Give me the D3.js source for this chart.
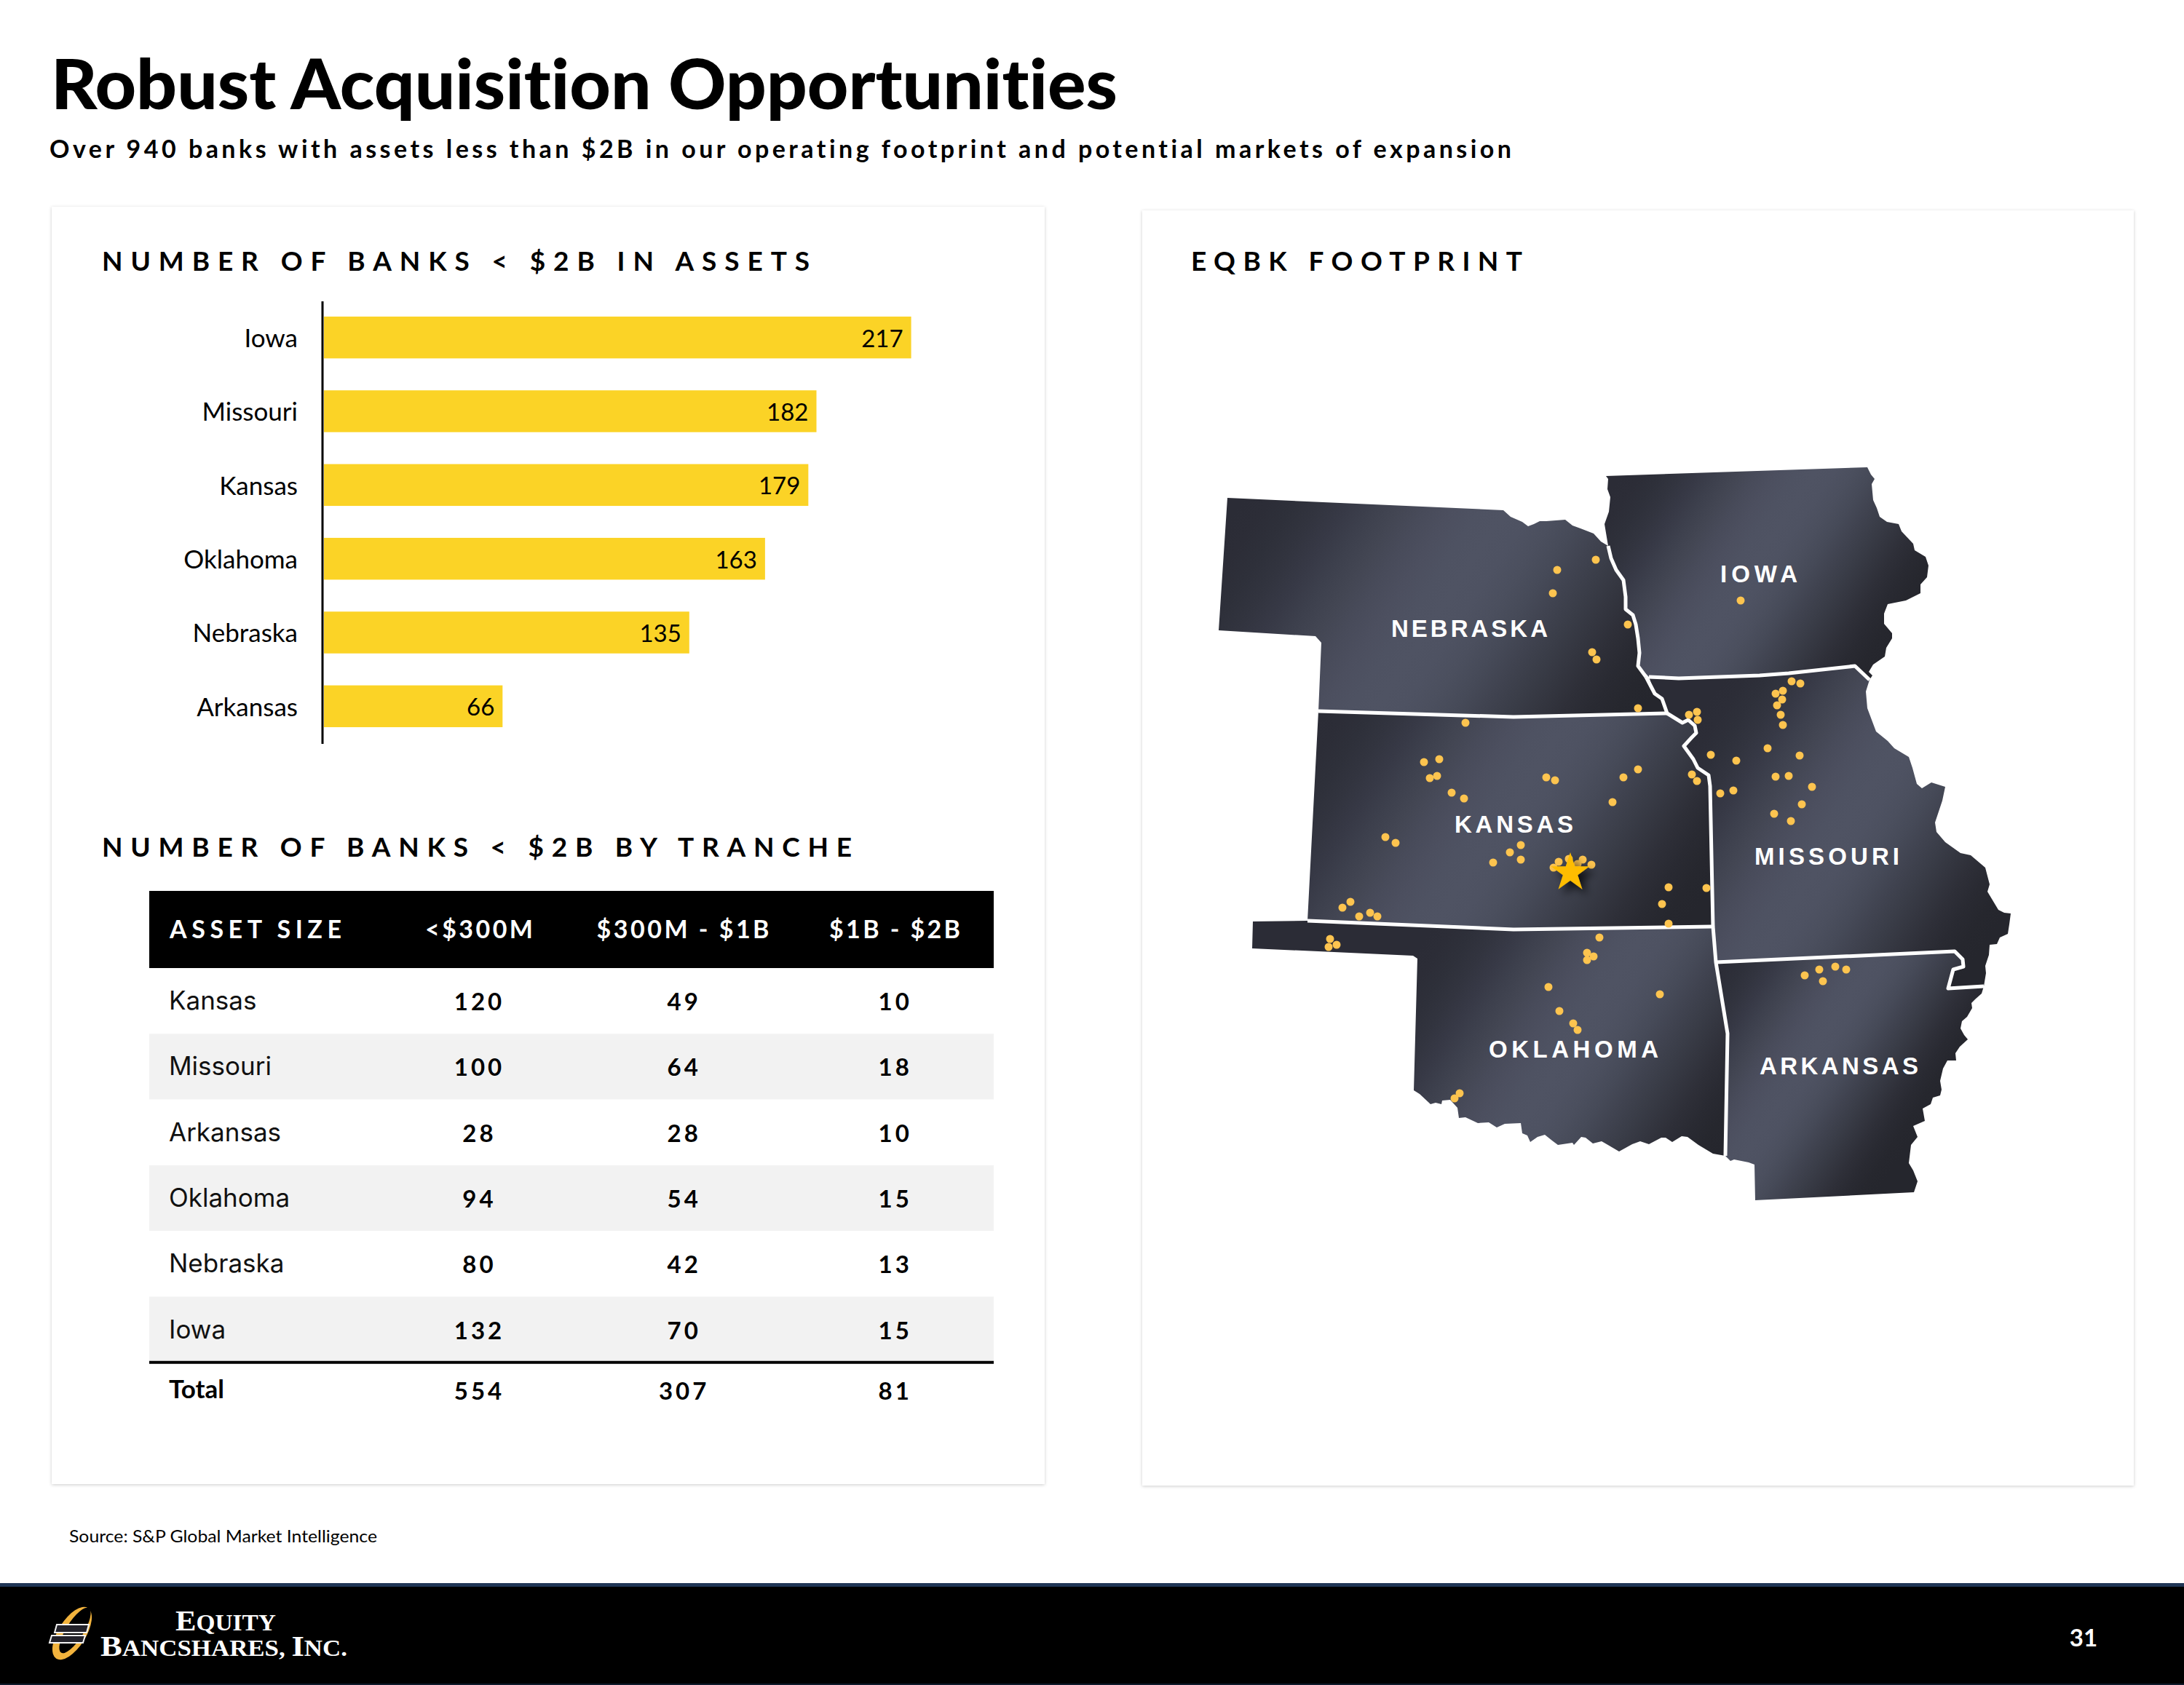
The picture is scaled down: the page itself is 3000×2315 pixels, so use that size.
<!DOCTYPE html>
<html>
<head>
<meta charset="utf-8">
<title>Robust Acquisition Opportunities</title>
<script src="https://cdnjs.cloudflare.com/ajax/libs/d3/7.8.5/d3.min.js"></script>
<style>
  html, body { margin: 0; padding: 0; background: #fff; }
  svg { display: block; }
  text { font-family: Lato, "Open Sans", sans-serif; font-variant-ligatures: none; }
</style>
</head>
<body>
<svg id="page" width="3000" height="2315" viewBox="0 0 3000 2315"></svg>
<script>
// Bank counts by state
const barStates = ["Iowa", "Missouri", "Kansas", "Oklahoma", "Nebraska", "Arkansas"];
const barValues = [217, 182, 179, 163, 135, 66];

// Tranche table
const trancheHeaders = ["ASSET SIZE", "<$300M", "$300M - $1B", "$1B - $2B"];
const trancheStates = ["Kansas", "Missouri", "Arkansas", "Oklahoma", "Nebraska", "Iowa"];
const under300M = [120, 100, 28, 94, 80, 132];
const from300Mto1B = [49, 64, 28, 54, 42, 70];
const from1Bto2B = [10, 18, 10, 15, 13, 15];

// State outlines, in map units
const nebraskaOutline = [[26,54],[405,71],[415,80],[431,87],[439,93],[447,90],[455,86],[464,86],[490,84],[500,92],[511,96],[529,103],[539,114],[549,120],[553,137],[560,153],[570,167],[573,190],[573,207],[583,215],[587,228],[590,247],[592,267],[590,285],[601,300],[613,323],[623,330],[630,350],[419,355],[151,347],[155,253],[147,244],[14,236]];
const iowaOutline = [[546,24],[905,12],[910,22],[915,28],[911,35],[913,57],[918,68],[922,80],[932,87],[948,90],[952,100],[968,117],[970,126],[985,135],[989,147],[987,163],[978,173],[978,185],[958,195],[933,200],[928,213],[928,227],[939,240],[939,247],[931,260],[929,272],[913,283],[907,293],[912,298],[908,304],[888,285],[797,295],[757,298],[646,302],[605,300],[590,285],[592,267],[590,247],[587,228],[583,215],[573,207],[573,190],[570,167],[560,153],[553,137],[549,120],[544,90],[550,73],[552,53],[548,42],[549,28]];
const missouriOutline = [[605,300],[646,302],[757,298],[797,295],[888,285],[908,304],[903,320],[905,343],[917,375],[933,388],[942,398],[962,410],[967,425],[973,447],[980,453],[993,445],[1012,451],[1008,470],[998,500],[1000,513],[1012,527],[1033,542],[1047,545],[1067,562],[1073,585],[1070,595],[1085,620],[1093,624],[1102,625],[1100,640],[1098,653],[1087,658],[1083,667],[1073,668],[1072,682],[1067,697],[1068,707],[1065,725],[1016,728],[1023,702],[1037,698],[1036,688],[1025,680],[1025,677],[697,692],[693,643],[689,450],[687,435],[672,425],[666,413],[653,395],[664,383],[670,377],[668,367],[659,359],[651,363],[630,350],[623,330],[613,323]];
const kansasOutline = [[151,347],[419,355],[630,350],[651,363],[659,359],[668,367],[670,377],[664,383],[653,395],[666,413],[672,425],[687,435],[689,450],[693,643],[419,647],[136,635]];
const oklahomaOutline = [[61,636],[136,635],[419,647],[693,643],[697,692],[713,790],[710,958],[693,955],[673,943],[658,932],[650,931],[637,939],[628,933],[622,933],[605,942],[593,938],[582,942],[564,952],[547,942],[540,938],[528,941],[518,933],[512,932],[502,943],[500,940],[480,943],[472,937],[462,929],[452,932],[442,939],[438,930],[431,927],[429,913],[407,914],[396,919],[385,912],[370,913],[353,905],[344,906],[342,892],[332,881],[321,882],[320,887],[312,885],[305,887],[290,873],[282,868],[287,687],[281,683],[60,673]];
const arkansasOutline = [[697,692],[1025,677],[1025,680],[1036,688],[1037,698],[1023,702],[1016,728],[1065,725],[1062,735],[1053,743],[1048,748],[1049,755],[1042,767],[1035,773],[1033,783],[1038,792],[1043,798],[1032,808],[1026,817],[1027,827],[1015,827],[1009,838],[1005,855],[1007,867],[1005,875],[995,878],[992,887],[981,893],[984,910],[968,917],[974,932],[965,943],[962,968],[968,978],[974,993],[969,1008],[751,1019],[750,970],[742,967],[722,963],[717,965],[710,958],[713,790]];

// Interior state lines, in map units
const stateLines = [
  [[549,120],[553,137],[560,153],[570,167],[573,190],[573,207],[583,215],[587,228],[590,247],[592,267],[590,285],[601,300]],
  [[601,300],[613,323],[623,330],[630,350],[651,363],[659,359],[668,367],[670,377],[664,383],[653,395],[666,413],[672,425],[687,435],[689,450],[693,643],[697,692],[713,790],[710,958]],
  [[605,300],[646,302],[757,298],[797,295],[888,285],[908,304]],
  [[151,347],[419,355],[630,350]],
  [[136,635],[419,647],[693,643]],
  [[697,692],[1025,677],[1036,688],[1037,698],[1023,702],[1016,728],[1065,725]]
];

// Sheen of each state: band centre and half width, in map units
const mapStates = [
  { name: "NEBRASKA", outline: nebraskaOutline, sheen: [330, 190, 310], label: [251, 245], span: 215 },
  { name: "IOWA",     outline: iowaOutline,     sheen: [740, 160, 220], label: [703, 170], span: 106 },
  { name: "KANSAS",   outline: kansasOutline,   sheen: [405, 495, 290], label: [338, 514], span: 163 },
  { name: "MISSOURI", outline: missouriOutline, sheen: [870, 510, 250], label: [750, 558], span: 199 },
  { name: "OKLAHOMA", outline: oklahomaOutline, sheen: [510, 790, 250], label: [385, 823], span: 233 },
  { name: "ARKANSAS", outline: arkansasOutline, sheen: [820, 830, 180], label: [757, 846], span: 218 }
];

// Branch locations, in map units
const nebraskaBranches = [[532,139],[479,153],[473,185],[576,228],[527,266],[533,276],[590,343]];
const iowaBranches = [[731,195]];
const kansasBranches = [[353,363],[296,417],[317,413],[304,439],[314,436],[334,459],[351,467],[464,438],[476,442],[570,438],[590,427],[555,472],[664,434],[671,443],[243,520],[257,528],[429,531],[414,541],[429,551],[391,555],[481,554],[474,562],[495,550],[514,551],[507,557],[526,558],[632,589],[684,590],[623,612],[632,639],[195,609],[184,617],[207,629],[222,624],[232,629]];
const missouriBranches = [[801,306],[813,309],[779,323],[789,319],[788,331],[781,339],[786,352],[789,366],[660,352],[671,348],[672,359],[690,407],[725,415],[768,398],[812,408],[779,437],[797,436],[829,451],[703,460],[721,456],[815,475],[777,488],[800,498]];
const oklahomaBranches = [[167,660],[176,668],[165,671],[537,658],[520,679],[529,684],[520,689],[467,726],[620,736],[482,759],[501,776],[507,785],[345,872],[338,879]];
const arkansasBranches = [[819,710],[839,702],[861,698],[876,702],[844,718]];
const branchSites = [...nebraskaBranches, ...iowaBranches, ...kansasBranches, ...missouriBranches, ...oklahomaBranches, ...arkansasBranches];

const starLocation = [497, 569];

const svg = d3.select("#page");
const defs = svg.append("defs");

const cardShadow = defs.append("filter").attr("id", "cardShadow")
  .attr("x", "-2%").attr("y", "-2%").attr("width", "104%").attr("height", "104%");
cardShadow.append("feDropShadow").attr("dx", 0).attr("dy", 1)
  .attr("stdDeviation", 2).attr("flood-color", "#000").attr("flood-opacity", 0.2);

const starShadow = defs.append("filter").attr("id", "starShadow")
  .attr("x", "-60%").attr("y", "-60%").attr("width", "240%").attr("height", "240%");
starShadow.append("feDropShadow").attr("dx", 7).attr("dy", 7)
  .attr("stdDeviation", 6).attr("flood-color", "#000").attr("flood-opacity", 0.75);

function put(parent, str, x, y, o = {}) {
  const t = parent.append("text")
    .attr("x", x).attr("y", y)
    .attr("font-size", o.size)
    .attr("font-weight", o.weight || 400)
    .attr("fill", o.fill || "#000")
    .attr("text-anchor", o.anchor || "start")
    .text(str);
  if (o.family) t.style("font-family", o.family);
  if (o.spacing) t.attr("letter-spacing", o.spacing);
  if (o.span) t.attr("textLength", o.span).attr("lengthAdjust", o.adjust || "spacing");
  return t;
}

// Title block
put(svg, "Robust Acquisition Opportunities", 70, 150, { size: 96, weight: 900, span: 1465, adjust: "spacingAndGlyphs" });
put(svg, "Over 940 banks with assets less than $2B in our operating footprint and potential markets of expansion", 68, 217,
  { size: 34, weight: 700, span: 2008 });

// Cards
svg.selectAll("rect.card").data([[71, 284, 1364, 1755], [1569, 289, 1362, 1752]]).join("rect")
  .attr("class", "card")
  .attr("x", d => d[0]).attr("y", d => d[1]).attr("width", d => d[2]).attr("height", d => d[3])
  .attr("fill", "#fff").attr("filter", "url(#cardShadow)");

put(svg, "NUMBER OF BANKS < $2B IN ASSETS", 140, 372, { size: 37, weight: 700, span: 972 });
put(svg, "EQBK FOOTPRINT", 1636, 372, { size: 37, weight: 700, span: 455 });
put(svg, "NUMBER OF BANKS < $2B BY TRANCHE", 140, 1177, { size: 37, weight: 700, span: 1030 });

// Horizontal bars
const xBar = d3.scaleLinear().domain([0, 217]).range([445, 1251.6]);
const yBar = d3.scaleBand().domain(barStates).range([413, 1021]).paddingInner(0.433).paddingOuter(0.2165);
const bars = svg.append("g");
bars.selectAll("rect").data(barStates).join("rect")
  .attr("x", xBar(0))
  .attr("y", d => yBar(d))
  .attr("width", (d, i) => xBar(barValues[i]) - xBar(0))
  .attr("height", yBar.bandwidth())
  .attr("fill", "#fbd326");
bars.selectAll("text.value").data(barStates).join("text")
  .attr("class", "value")
  .attr("x", (d, i) => xBar(barValues[i]) - 11)
  .attr("y", d => yBar(d) + yBar.bandwidth() / 2 + 13)
  .attr("text-anchor", "end").attr("font-size", 33)
  .text((d, i) => barValues[i]);

const axis = svg.append("g")
  .attr("transform", `translate(${xBar(0) - 2},2)`)
  .call(d3.axisLeft(yBar).tickSize(0).tickPadding(34));
axis.select(".domain").attr("stroke", "#000").attr("stroke-width", 3)
  .attr("d", "M0,412V1020");
axis.selectAll("text").attr("font-size", 35).attr("fill", "#000")
  .style("font-family", "Lato");

// Tranche table
const tableLeft = 205, tableRight = 1365, headTop = 1224, headBottom = 1330, rowHeight = 90.3;
const colCentres = [658.5, 939.7, 1229.7];
const yRow = d3.scaleLinear().domain([0, 6]).range([headBottom, headBottom + 6 * rowHeight]);

svg.append("rect").attr("x", tableLeft).attr("y", headTop)
  .attr("width", tableRight - tableLeft).attr("height", headBottom - headTop).attr("fill", "#000");
put(svg, trancheHeaders[0], 233, 1289, { size: 34, weight: 700, fill: "#fff", span: 236 });
[[658, 148], [938, 237], [1229, 180]].forEach(([cx, w], i) => {
  put(svg, trancheHeaders[i + 1], cx, 1289, { size: 34, weight: 700, fill: "#fff", anchor: "middle", span: w });
});

const rows = svg.append("g");
rows.selectAll("rect").data(trancheStates).join("rect")
  .attr("x", tableLeft).attr("width", tableRight - tableLeft)
  .attr("y", (d, i) => yRow(i)).attr("height", rowHeight)
  .attr("fill", (d, i) => i % 2 ? "#f2f2f2" : "#fff");
trancheStates.forEach((name, i) => {
  const base = yRow(i) + rowHeight / 2 + 12;
  put(rows, name, 232, base, { size: 35, family: "Inter", fill: "#111" });
  [under300M, from300Mto1B, from1Bto2B].forEach((col, j) => {
    put(rows, col[i], colCentres[j], base + 1, { size: 33, weight: 700, anchor: "middle", spacing: 4 });
  });
});
svg.append("line").attr("x1", tableLeft).attr("x2", tableRight)
  .attr("y1", yRow(6)).attr("y2", yRow(6)).attr("stroke", "#000").attr("stroke-width", 4);
put(svg, "Total", 232, 1921, { size: 35, weight: 700 });
[under300M, from300Mto1B, from1Bto2B].forEach((col, j) => {
  put(svg, d3.sum(col), colCentres[j], 1923, { size: 33, weight: 700, anchor: "middle", spacing: 4 });
});

put(svg, "Source: S&P Global Market Intelligence", 95, 2119, { size: 24, span: 423, adjust: "spacingAndGlyphs" });

// Map
const xMap = d3.scaleLinear().domain([0, 1100]).range([1660, 2760]);
const yMap = d3.scaleLinear().domain([0, 1030]).range([630, 1660]);
const openPath = d3.line().x(d => xMap(d[0])).y(d => yMap(d[1]));
const outlinePath = d3.line().x(d => xMap(d[0])).y(d => yMap(d[1])).curve(d3.curveLinearClosed);

// Soft metallic sheen: dark at both ends with a bright centre band
const sheenDir = [0.837, 0.547];
const riseToBand = d3.interpolateRgb("#2b2c36", "#4f5363");
const fallFromBand = d3.interpolateRgb("#4f5363", "#25262d");
mapStates.forEach(s => {
  const [cx, cy, half] = s.sheen;
  const g = defs.append("linearGradient").attr("id", "sheen" + s.name)
    .attr("gradientUnits", "userSpaceOnUse")
    .attr("x1", xMap(cx - sheenDir[0] * half)).attr("y1", yMap(cy - sheenDir[1] * half))
    .attr("x2", xMap(cx + sheenDir[0] * half)).attr("y2", yMap(cy + sheenDir[1] * half));
  d3.range(0, 1.001, 0.05).forEach(o => {
    const c = o <= 0.5 ? riseToBand(d3.easeSinInOut(o * 2)) : fallFromBand(d3.easeSinInOut((o - 0.5) * 2));
    g.append("stop").attr("offset", o).attr("stop-color", c);
  });
});

const map = svg.append("g");
map.selectAll("path.state").data(mapStates).join("path")
  .attr("class", "state")
  .attr("d", d => outlinePath(d.outline))
  .attr("fill", d => `url(#sheen${d.name})`);

map.selectAll("path.stateLine").data(stateLines).join("path")
  .attr("class", "stateLine")
  .attr("d", openPath)
  .attr("fill", "none")
  .attr("stroke", "#fff").attr("stroke-width", 5).attr("stroke-linejoin", "round");

map.selectAll("circle.branch").data(branchSites).join("circle")
  .attr("class", "branch")
  .attr("cx", d => xMap(d[0]))
  .attr("cy", d => yMap(d[1]))
  .attr("r", 5.5)
  .attr("fill", "#fdc44f");

map.append("path")
  .attr("d", d3.symbol(d3.symbolStar, 880)())
  .attr("transform", `translate(${xMap(starLocation[0])},${yMap(starLocation[1])})`)
  .attr("fill", "#ffbd00").attr("filter", "url(#starShadow)");

mapStates.forEach(s => {
  put(map, s.name, xMap(s.label[0]), yMap(s.label[1]), {
    size: 33, weight: 700, fill: "#fff", family: "'Liberation Sans'", span: s.span
  });
});

// Footer band
svg.append("rect").attr("x", 0).attr("y", 2175).attr("width", 3000).attr("height", 140).attr("fill", "#000");
svg.append("rect").attr("x", 0).attr("y", 2175).attr("width", 3000).attr("height", 5).attr("fill", "#1f3555");
svg.append("rect").attr("x", 0).attr("y", 2313).attr("width", 3000).attr("height", 2).attr("fill", "#0e1a2c");

// Company mark: tilted ring crossed by two bars
const logo = svg.append("g");
logo.append("ellipse").attr("cx", 99).attr("cy", 2244).attr("rx", 41).attr("ry", 19)
  .attr("transform", "rotate(-58 99 2244)").attr("fill", "#f2b33d");
logo.append("ellipse").attr("cx", 103).attr("cy", 2240).attr("rx", 36).attr("ry", 12)
  .attr("transform", "rotate(-58 103 2240)").attr("fill", "#000");
[[78, 2232, 122, 2232, 119, 2243, 75, 2243], [71, 2247, 117, 2247, 114, 2257, 68, 2257]].forEach(p => {
  logo.append("polygon").attr("points", p.join(" "))
    .attr("fill", "#23222a").attr("stroke", "#f4f4f4").attr("stroke-width", 2);
});

function wordmark(y, x, span, parts) {
  const t = svg.append("text").attr("x", x).attr("y", y).attr("fill", "#fff").attr("font-weight", 700)
    .attr("textLength", span).attr("lengthAdjust", "spacingAndGlyphs")
    .style("font-family", "'Liberation Serif'");
  parts.forEach(([s, size]) => t.append("tspan").attr("font-size", size).text(s));
}
wordmark(2240, 241, 138, [["E", 41], ["QUITY", 32]]);
wordmark(2275, 138, 339, [["B", 41], ["ANCSHARES, ", 32], ["I", 41], ["NC.", 32]]);

put(svg, "31", 2862, 2262, { size: 33, weight: 700, fill: "#fff", anchor: "middle" });
</script>
</body>
</html>
